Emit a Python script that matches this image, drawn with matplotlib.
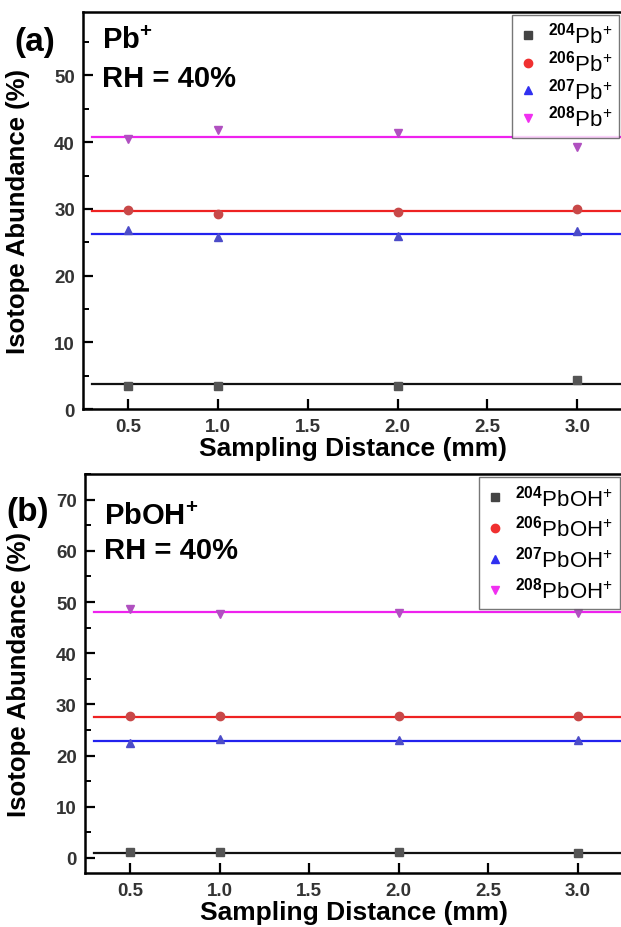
import matplotlib
matplotlib.use("Agg")
import matplotlib.pyplot as plt
from matplotlib.lines import Line2D
from matplotlib.ticker import MultipleLocator

# sampling distance (mm)
distance = [0.5, 1.0, 2.0, 3.0]

# (a) Pb+ isotope abundance (%)
pb204 = [3.4, 3.5, 3.5, 4.4]
pb206 = [29.9, 29.3, 29.5, 30.0]
pb207 = [26.8, 25.8, 25.9, 26.7]
pb208 = [40.4, 41.8, 41.4, 39.3]
pb_fit = [3.7, 29.7, 26.2, 40.8]          # horizontal fit levels

# (b) PbOH+ isotope abundance (%)
pboh204 = [1.2, 1.2, 1.2, 1.0]
pboh206 = [27.7, 27.7, 27.7, 27.7]
pboh207 = [22.4, 23.3, 23.1, 23.1]
pboh208 = [48.7, 47.7, 47.8, 47.9]
pboh_fit = [1.0, 27.6, 22.8, 48.0]

isotopes = ["204", "206", "207", "208"]

line_colors = ["#111111", "#ee2222", "#2222ee", "#ee22ee"]
point_colors = ["#555555", "#c84848", "#4c4cc8", "#b050c0"]
legend_colors = ["#444444", "#f03030", "#3030f0", "#f030f0"]
markers = ["s", "o", "^", "v"]

plt.rcParams["font.family"] = ["Liberation Sans", "DejaVu Sans"]
plt.rcParams["mathtext.fontset"] = "custom"
plt.rcParams["mathtext.rm"] = "Liberation Sans"
plt.rcParams["mathtext.bf"] = "Liberation Sans:bold"

fig = plt.figure(figsize=(6.21, 9.28), dpi=100)
ax_a = fig.add_axes([0.134, 0.558, 0.868, 0.428])
ax_b = fig.add_axes([0.137, 0.058, 0.866, 0.430])


def draw_panel(ax, series, fits, ion, ylim, tag, txt_y, tag_x, spacing):
    for k, vals in enumerate(series):
        ax.plot([0.3, 3.3], [fits[k], fits[k]], color=line_colors[k], lw=1.6, zorder=2)
        ax.plot(distance, vals, ls="none", marker=markers[k], ms=6,
                color=point_colors[k], mec=point_colors[k], zorder=3)
    ax.set_xlim(0.25, 3.25)
    ax.set_ylim(*ylim)
    ax.xaxis.set_major_locator(MultipleLocator(0.5))
    ax.yaxis.set_major_locator(MultipleLocator(10))
    ax.yaxis.set_minor_locator(MultipleLocator(5))
    ax.tick_params(axis="both", which="major", direction="in", length=7, width=1.6,
                   labelsize=13.5, labelcolor="#333333", pad=6)
    ax.tick_params(axis="y", which="minor", direction="in", length=4, width=1.4)
    ax.tick_params(axis="x", which="minor", bottom=False)
    for lab in ax.get_xticklabels() + ax.get_yticklabels():
        lab.set_fontweight("bold")
    for sp in ax.spines.values():
        sp.set_linewidth(1.8)
    ax.set_xlabel("Sampling Distance (mm)", fontsize=19, fontweight="bold", labelpad=1)
    ax.set_ylabel("Isotope Abundance (%)", fontsize=18.5, fontweight="bold")

    ax.text(0.035, txt_y[0], ion + r"$^{\mathbf{+}}$", transform=ax.transAxes,
            fontsize=21, fontweight="bold", va="top", ha="left")
    ax.text(0.035, txt_y[1], "RH = 40%", transform=ax.transAxes, fontsize=21,
            fontweight="bold", va="top", ha="left")
    ax.text(tag_x, txt_y[2], tag, transform=ax.transAxes, fontsize=24,
            fontweight="bold", va="top", ha="left")

    handles = [Line2D([], [], ls="none", marker=markers[k], ms=6,
                      color=legend_colors[k]) for k in range(4)]
    labels = [r"$^{\mathbf{%s}}$%s$^{+}$" % (iso, ion) for iso in isotopes]
    leg = ax.legend(handles, labels, loc="upper right", fontsize=16, frameon=True,
                    fancybox=False, edgecolor="#555555", handlelength=0.8,
                    handletextpad=0.5, labelspacing=spacing, borderpad=0.3,
                    borderaxespad=0.15)
    leg.get_frame().set_linewidth(1.0)


draw_panel(ax_a, [pb204, pb206, pb207, pb208], pb_fit, "Pb", (0, 59.5), "(a)",
           (0.965, 0.87, 0.965), -0.128, 0.08)
draw_panel(ax_b, [pboh204, pboh206, pboh207, pboh208], pboh_fit, "PbOH", (-3, 75),
           "(b)", (0.93, 0.845, 0.945), -0.146, 0.22)

ax_a.yaxis.set_label_coords(-0.098, 0.5)
ax_b.yaxis.set_label_coords(-0.101, 0.5)

fig.savefig("out.png", dpi=100, facecolor="white")
